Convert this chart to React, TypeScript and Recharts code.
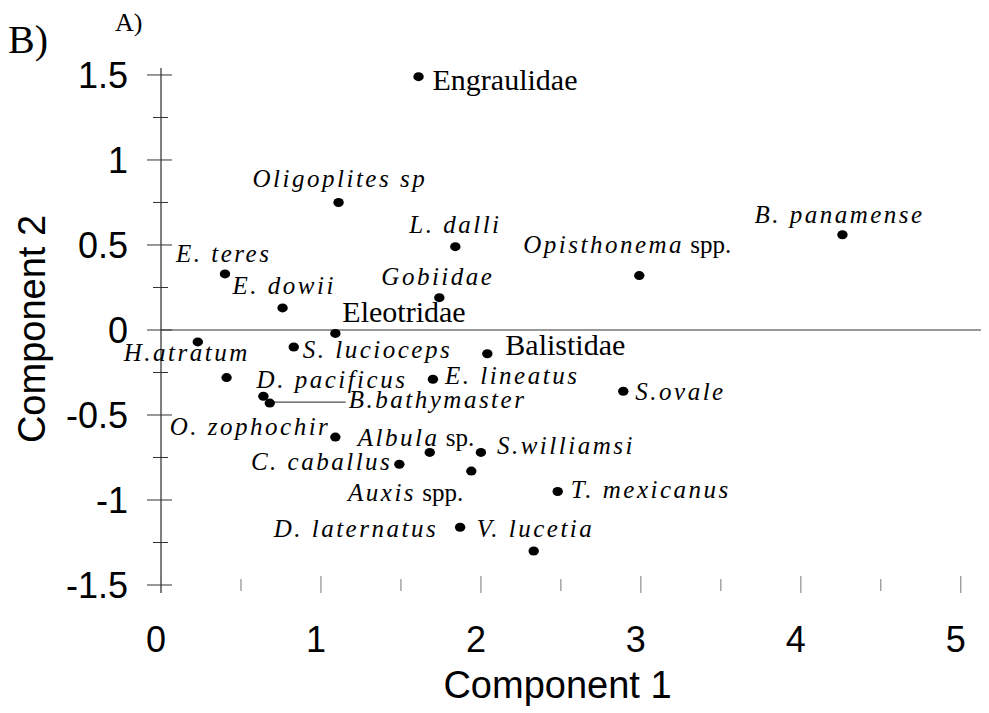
import { ScatterChart, Scatter, XAxis, YAxis, ReferenceLine, Label } from "recharts"

// species / taxa in plotting order
const species = [
  "Engraulidae", "Oligoplites sp", "L. dalli", "Opisthonema spp.", "B. panamense",
  "Gobiidae", "E. teres", "E. dowii", "Eleotridae", "H.atratum",
  "S. lucioceps", "Balistidae", "D. pacificus", "E. lineatus", "",
  "B.bathymaster", "S.ovale", "O. zophochir", "Albula sp.", "S.williamsi",
  "C. caballus", "Auxis spp.", "T. mexicanus", "D. laternatus", "V. lucetia",
]
const component1 = [
  1.61, 1.11, 1.84, 2.99, 4.26,
  1.74, 0.4, 0.76, 1.09, 0.23,
  0.83, 2.04, 0.41, 1.7, 0.64,
  0.68, 2.89, 1.09, 1.68, 2.0,
  1.49, 1.94, 2.48, 1.87, 2.33,
]
const component2 = [
  1.49, 0.75, 0.49, 0.32, 0.56,
  0.19, 0.33, 0.13, -0.02, -0.07,
  -0.1, -0.14, -0.28, -0.29, -0.39,
  -0.43, -0.36, -0.63, -0.72, -0.72,
  -0.79, -0.83, -0.95, -1.16, -1.3,
]
const families = ["Engraulidae", "Eleotridae", "Balistidae"]
const xTicks = [0, 0.5, 1, 1.5, 2, 2.5, 3, 3.5, 4, 4.5, 5]
const yTicks = [-1.5, -1.25, -1, -0.75, -0.5, -0.25, 0, 0.25, 0.5, 0.75, 1, 1.25, 1.5]

const points = species.map((name, i) => ({ name, c1: component1[i], c2: component2[i] }))

// where each label sits relative to its dot (px)
const labelPos: Record<string, { dx: number; dy: number; end?: boolean }> = {
  Engraulidae: { dx: 14, dy: 13 },
  "Oligoplites sp": { dx: -86, dy: -15 },
  "L. dalli": { dx: -46, dy: -14 },
  "Opisthonema spp.": { dx: -116, dy: -23 },
  "B. panamense": { dx: -88, dy: -12 },
  Gobiidae: { dx: -58, dy: -13 },
  "E. teres": { dx: -49, dy: -12 },
  "E. dowii": { dx: -50, dy: -14 },
  Eleotridae: { dx: 7, dy: -11 },
  "H.atratum": { dx: -74, dy: 19 },
  "S. lucioceps": { dx: 9, dy: 11 },
  Balistidae: { dx: 18, dy: 1 },
  "D. pacificus": { dx: 30, dy: 10 },
  "E. lineatus": { dx: 12, dy: 5 },
  "B.bathymaster": { dx: 79, dy: 5 },
  "S.ovale": { dx: 12, dy: 9 },
  "O. zophochir": { dx: -5, dy: -2, end: true },
  "Albula sp.": { dx: -72, dy: -6 },
  "S.williamsi": { dx: 16, dy: 2 },
  "C. caballus": { dx: -7, dy: 6, end: true },
  "Auxis spp.": { dx: -8, dy: 30, end: true },
  "T. mexicanus": { dx: 13, dy: 6 },
  "D. laternatus": { dx: -22, dy: 10, end: true },
  "V. lucetia": { dx: -57, dy: -14 },
}

const serif = "'Liberation Serif', 'Times New Roman', serif"
const sans = "'Liberation Sans', Arial, sans-serif"

function labelText(name: string) {
  if (families.includes(name)) return <tspan fontSize={30}>{name}</tspan>
  const m = name.match(/^(.*?)( spp?\.)$/)
  const italic = m ? m[1] : name
  return (
    <>
      <tspan fontStyle="italic" fontSize={25} letterSpacing={2.5}>{italic}</tspan>
      {m && <tspan fontSize={25}>{m[2]}</tspan>}
    </>
  )
}

function SpeciesDot(props: any) {
  const { cx, cy, payload } = props
  const pos = labelPos[payload.name]
  return (
    <g>
      {payload.name === "B.bathymaster" && (
        <line x1={cx} y1={cy - 1} x2={cx + 76} y2={cy - 1} stroke="#222" strokeWidth={1} />
      )}
      <ellipse cx={cx} cy={cy} rx={5.2} ry={4.5} fill="#000" />
      {pos && (
        <text x={cx + pos.dx} y={cy + pos.dy} textAnchor={pos.end ? "end" : "start"} fontFamily={serif} fill="#000">
          {labelText(payload.name)}
        </text>
      )}
    </g>
  )
}

function XTick(props: any) {
  const { x, y, payload } = props
  const major = Number.isInteger(payload.value)
  return (
    <g>
      <line x1={x} x2={x} y1={y - (major ? 17 : 14)} y2={y - (major ? 0 : 2)} stroke="#777" />
      {major && (
        <text x={x - 5} y={y + 59} textAnchor="middle" fontFamily={sans} fontSize={36} fill="#000">
          {payload.value}
        </text>
      )}
    </g>
  )
}

function YTick(props: any) {
  const { x, y, payload } = props
  const v = payload.value
  const major = Math.abs(v * 2 - Math.round(v * 2)) < 1e-6
  return (
    <g>
      <line x1={x - (major ? 14 : 8)} x2={x + (major ? 11 : 7)} y1={y} y2={y} stroke="#333" />
      {major && (
        <text x={x - 33} y={y} dy="0.355em" textAnchor="end" fontFamily={sans} fontSize={36} fill="#000">
          {String(v)}
        </text>
      )}
    </g>
  )
}

function XTitle(props: any) {
  const { x, y, width } = props.viewBox
  return (
    <text x={x + width / 2 - 17} y={y + 105} textAnchor="middle" fontFamily={sans} fontSize={38} fill="#000">
      Component 1
    </text>
  )
}

function YTitle(props: any) {
  const { x, y, height } = props.viewBox
  const tx = x + 37
  const ty = y + height / 2 - 1.5
  return (
    <text x={tx} y={ty} transform={`rotate(-90, ${tx}, ${ty})`} textAnchor="middle" fontFamily={sans} fontSize={38} fill="#000">
      Component 2
    </text>
  )
}

export default function App() {
  return (
    <div style={{ position: "relative", width: 981, height: 705 }}>
      <ScatterChart width={981} height={705} margin={{ top: 60, right: 1, bottom: 5, left: 0 }}>
        <XAxis
          type="number"
          dataKey="c1"
          domain={[0, 5.17]}
          ticks={xTicks}
          interval={0}
          height={115}
          axisLine={false}
          tickLine={false}
          tickSize={0}
          tickMargin={0}
          tick={<XTick />}
        >
          <Label content={<XTitle />} />
        </XAxis>
        <YAxis
          type="number"
          dataKey="c2"
          domain={[-1.547, 1.541]}
          ticks={yTicks}
          interval={0}
          width={153}
          axisLine={{ stroke: "#000", strokeWidth: 1 }}
          tickLine={false}
          tickSize={0}
          tickMargin={0}
          tick={<YTick />}
        >
          <Label content={<YTitle />} />
        </YAxis>
        <ReferenceLine y={0} stroke="#333" strokeWidth={1} />
        <Scatter data={points} shape={<SpeciesDot />} isAnimationActive={false} />
      </ScatterChart>
      <svg width={981} height={80} style={{ position: "absolute", left: 0, top: 0, pointerEvents: "none" }}>
        <text x={0} y={45} fontFamily={serif} fontSize={40} fill="#000">B)</text>
        <text x={107} y={23} fontFamily={serif} fontSize={26} fill="#000">A)</text>
      </svg>
    </div>
  )
}
